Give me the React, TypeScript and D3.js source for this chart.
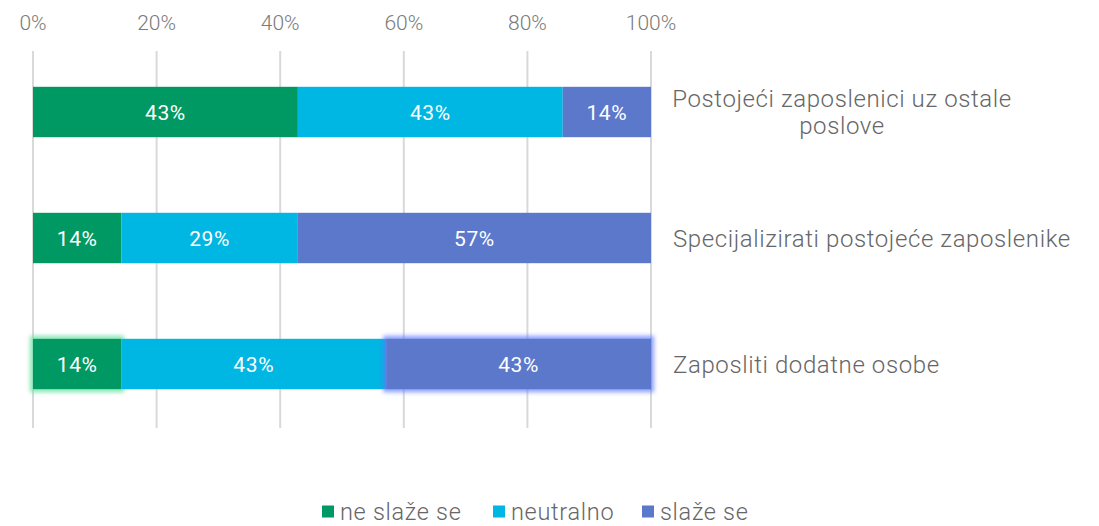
import React from "react";
import * as d3 from "d3";

const categories: string[][] = [
  ["Postojeći zaposlenici uz ostale", "poslove"],
  ["Specijalizirati postojeće zaposlenike"],
  ["Zaposliti dodatne osobe"],
];
const seriesNames = ["ne slaže se", "neutralno", "slaže se"];
const neSlazeSe = [42.86, 14.29, 14.29];
const neutralno = [42.86, 28.57, 42.86];
const slazeSe = [14.28, 57.14, 42.85];
const xTicks = [0, 20, 40, 60, 80, 100];
const colors = ["#009963", "#00B6E2", "#5B78CB"];

const W = 1099;
const H = 526;
const FONT = "Roboto, 'Open Sans', sans-serif";

export default function App() {
  const x = d3.scaleLinear().domain([0, 100]).range([33, 651]);
  const y = d3
    .scaleBand<number>()
    .domain(d3.range(categories.length))
    .range([49, 427])
    .paddingInner(0.6)
    .paddingOuter(0.3);

  const rows = categories.map((c, i) => [neSlazeSe[i], neutralno[i], slazeSe[i]]);
  const stack = d3
    .stack<number[]>()
    .keys([0, 1, 2] as any)
    .value((d, k) => d[k as any]);
  const series = stack(rows);

  const bw = y.bandwidth();
  const legendX = [322, 493, 642];

  return (
    <svg width={W} height={H} style={{ position: "absolute", left: 0, top: 0 }}>
      <defs>
        <filter id="gG" x="-30%" y="-30%" width="160%" height="160%">
          <feMorphology in="SourceAlpha" operator="dilate" radius="3" result="d" />
          <feGaussianBlur in="d" stdDeviation="2.2" result="b" />
          <feFlood floodColor="#6fe3a8" floodOpacity="0.85" />
          <feComposite in2="b" operator="in" result="g" />
          <feMerge>
            <feMergeNode in="g" />
            <feMergeNode in="SourceGraphic" />
          </feMerge>
        </filter>
        <filter id="gB" x="-10%" y="-30%" width="120%" height="160%">
          <feMorphology in="SourceAlpha" operator="dilate" radius="3" result="d" />
          <feGaussianBlur in="d" stdDeviation="2.2" result="b" />
          <feFlood floodColor="#5a78ff" floodOpacity="0.7" />
          <feComposite in2="b" operator="in" result="g" />
          <feMerge>
            <feMergeNode in="g" />
            <feMergeNode in="SourceGraphic" />
          </feMerge>
        </filter>
      </defs>
      <rect width={W} height={H} fill="#fff" />
      {xTicks.map((t) => (
        <g key={t}>
          <line x1={x(t)} x2={x(t)} y1={51} y2={428} stroke="#d9d9d9" strokeWidth={2} />
          <text
            x={x(t)}
            y={30}
            textAnchor="middle"
            fontFamily={FONT}
            fontWeight={300}
            fontSize={21}
            fill="#7a7a7a"
          >
            {t}%
          </text>
        </g>
      ))}
      {series.map((s, si) =>
        s.map((d, i) => {
          const x0 = x(d[0]);
          const x1 = x(d[1]);
          const yy = y(i)!;
          let filter: string | undefined;
          if (i === 2 && si === 0) filter = "url(#gG)";
          if (i === 2 && si === 2) filter = "url(#gB)";
          return (
            <rect
              key={si + "-" + i}
              x={x0}
              y={yy}
              width={x1 - x0}
              height={bw}
              fill={colors[si]}
              filter={filter}
            />
          );
        })
      )}
      {series.map((s, si) =>
        s.map((d, i) => {
          const x0 = x(d[0]);
          const x1 = x(d[1]);
          const yy = y(i)!;
          return (
            <text
              key={"t" + si + "-" + i}
              x={(x0 + x1) / 2}
              y={yy + bw / 2 + 7.5}
              textAnchor="middle"
              fontFamily={FONT}
              fontSize={21}
              letterSpacing={0.6}
              fill="#fff"
            >
              {Math.round(d[1] - d[0])}%
            </text>
          );
        })
      )}
      {categories.map((lines, i) => {
        const cy = y(i)! + bw / 2;
        const lh = 27;
        const top = cy - ((lines.length - 1) * lh) / 2;
        const multi = lines.length > 1;
        return (
          <text
            key={"c" + i}
            fontFamily={FONT}
            fontWeight={300}
            fontSize={24}
            letterSpacing={0.6}
            fill="#666"
            textAnchor={multi ? "middle" : "start"}
          >
            {lines.map((l, li) => (
              <tspan key={li} x={multi ? 842 : 673} y={top + li * lh + 8.5}>
                {l}
              </tspan>
            ))}
          </text>
        );
      })}
      {seriesNames.map((n, i) => (
        <g key={n}>
          <rect x={legendX[i]} y={505.5} width={12} height={12} fill={colors[i]} />
          <text
            x={legendX[i] + 18}
            y={519.5}
            fontFamily={FONT}
            fontWeight={300}
            fontSize={23.5}
            letterSpacing={0.7}
            fill="#666"
          >
            {n}
          </text>
        </g>
      ))}
    </svg>
  );
}
